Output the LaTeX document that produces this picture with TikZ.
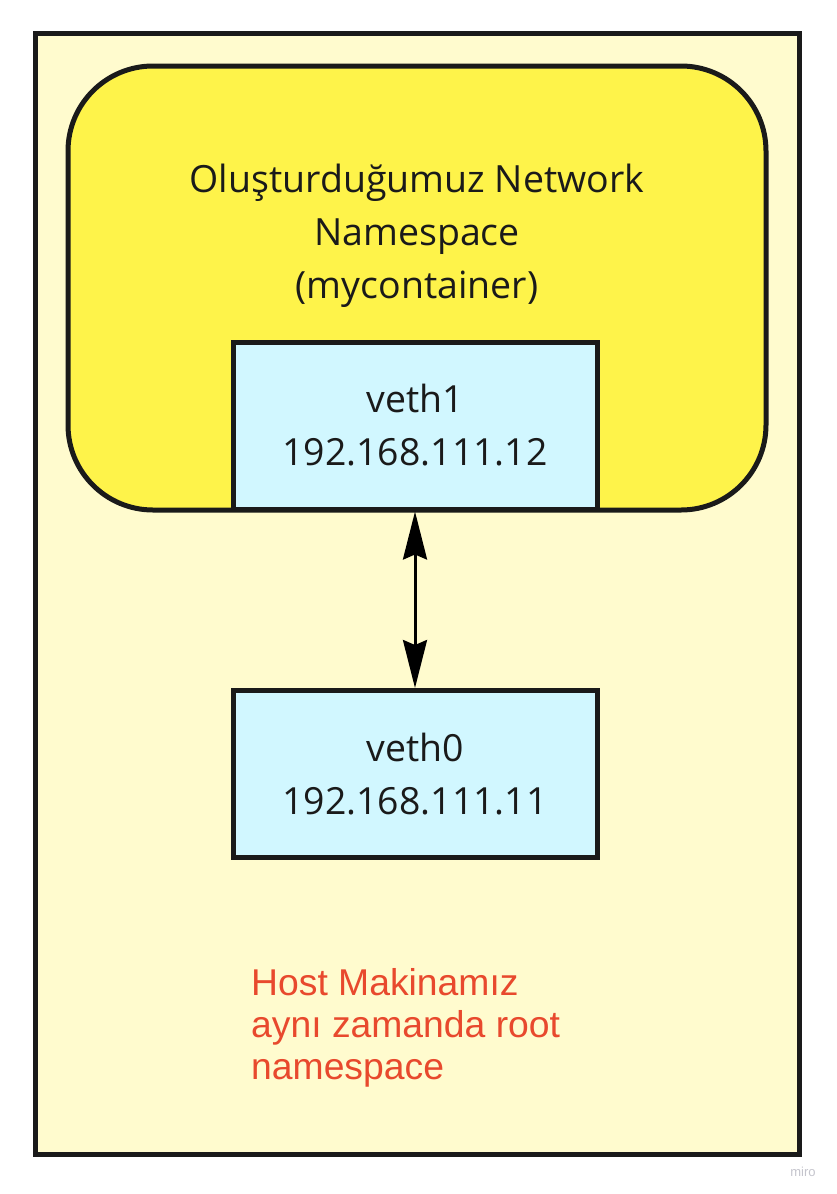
\documentclass[tikz,border=0pt]{standalone}
\usepackage{fontspec}
\setmainfont{Open Sans}
\newfontfamily\arialfont{Liberation Sans}
\usetikzlibrary{arrows.meta}
\definecolor{hostbg}{HTML}{FFFBCE}
\definecolor{nsbg}{HTML}{FEF34A}
\definecolor{vethbg}{HTML}{D1F7FF}
\definecolor{edgegray}{HTML}{1A1A1A}
\definecolor{notered}{HTML}{E8492D}
\definecolor{wmgray}{HTML}{C4C4CC}

\begin{document}
\begin{tikzpicture}[x=1pt,y=-1pt,
	vethbox/.style={draw=edgegray, fill=vethbg, line width=5pt, minimum width=364pt, minimum height=167pt, align=center, font=\fontsize{37.4}{53}\selectfont, text=edgegray},
	link/.style={{Stealth[length=48pt,width=24pt,inset=5pt]}-{Stealth[length=48pt,width=24pt,inset=5pt]}, line width=3pt}]
	\useasboundingbox (0,0) rectangle (837,1194);

	% host (root namespace)
	\draw [line width=5pt, draw=edgegray, fill=hostbg] (35,33) rectangle (799,1154);
	% created namespace
	\draw [line width=5pt, draw=edgegray, fill=nsbg, rounded corners=85pt] (68,66) rectangle (766,510);

	\node (title) [align=center, anchor=base, font=\fontsize{37.5}{53}\selectfont, text=edgegray] at (417,298) {Oluşturduğumuz Network\\Namespace\\(mycontainer)};

	\node (veth1) [vethbox] at (415,425.5) {veth1\\192.168.111.12};
	\node (veth0) [vethbox] at (415,774) {veth0\\192.168.111.11};

	\draw [link] (veth1.south) -- (veth0.north);

	\node (host) [align=left, anchor=base west, inner sep=0pt, text=notered, font=\arialfont\fontsize{37.3}{42}\selectfont] at (251,1079) {Host Makinamız\\aynı zamanda root\\namespace};

	\node (miro) [text=wmgray, font=\arialfont\fontsize{13}{15}\selectfont] at (803,1172) {miro};
\end{tikzpicture}
\end{document}
